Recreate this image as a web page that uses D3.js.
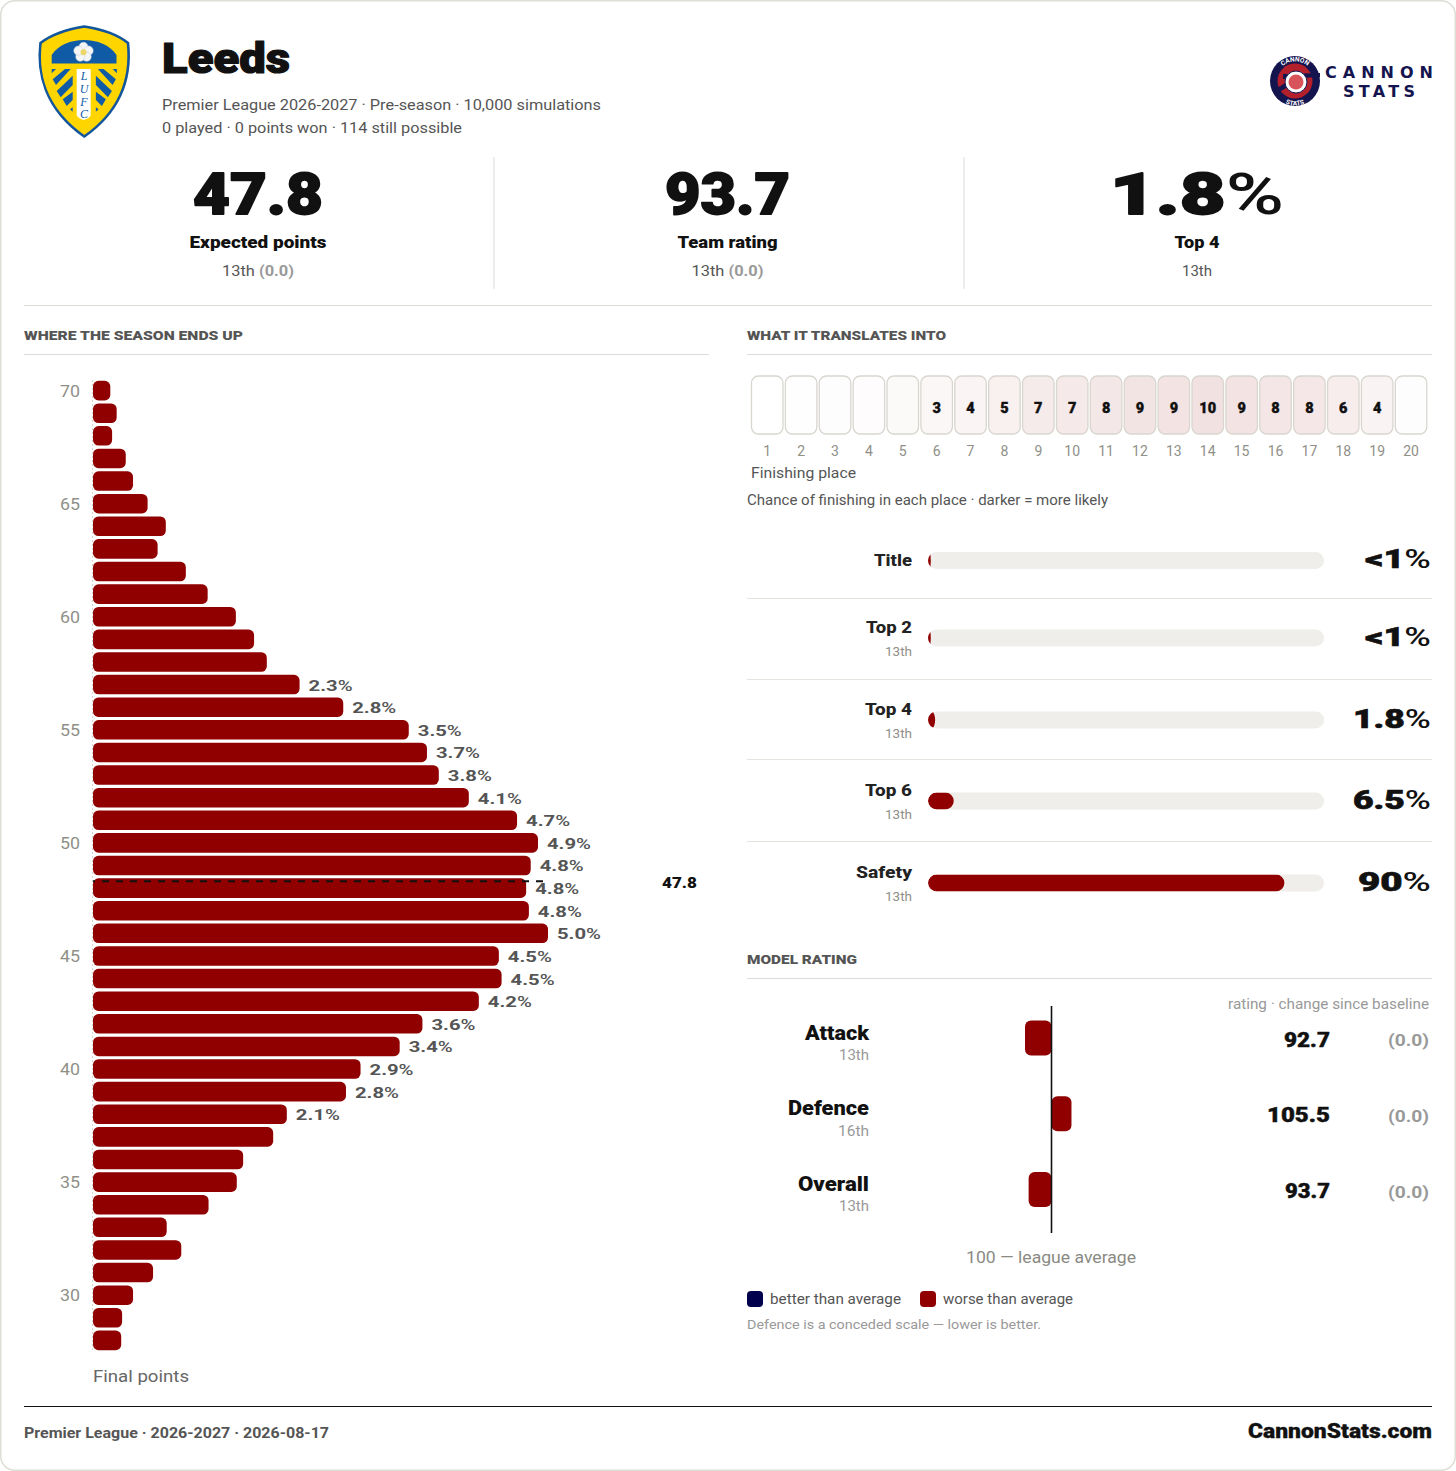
<!DOCTYPE html>
<html><head><meta charset="utf-8">
<script src="https://cdn.jsdelivr.net/npm/d3@7"></script>
<style>html,body{margin:0;padding:0;background:#fff}svg{display:block}</style>
</head><body><svg id="c" width="1456" height="1471"></svg>
<script>
const pointsAxis=[70,69,68,67,66,65,64,63,62,61,60,59,58,57,56,55,54,53,52,51,50,49,48,47,46,45,44,43,42,41,40,39,38,37,36,35,34,33,32,31,30,29,28];
const pointsPct=[.19,.26,.21,.36,.44,.60,.80,.71,1.02,1.26,1.57,1.77,1.91,2.27,2.75,3.47,3.67,3.80,4.13,4.66,4.89,4.81,4.76,4.79,5.0,4.46,4.49,4.24,3.62,3.37,2.94,2.78,2.13,1.98,1.65,1.58,1.27,.81,.97,.66,.44,.32,.31];
const pointsTicks=[70,65,60,55,50,45,40,35,30];
const expectedPoints=47.8;
const places=d3.range(1,21);
const placePct=[.1,.3,.5,.9,2.0,2.7,3.7,4.8,6.6,7.2,7.9,8.8,9.1,9.8,9.0,8.2,7.8,5.9,3.8,.5];
const outcomeNames=["Title","Top 2","Top 4","Top 6","Safety"];
const outcomeRanks=[null,"13th","13th","13th","13th"];
const outcomePct=[.7,.7,1.8,6.5,90];
const outcomeLabels=["<1%","<1%","1.8%","6.5%","90%"];
const ratingNames=["Attack","Defence","Overall"];
const ratingRanks=["13th","16th","13th"];
const ratingValues=[92.7,105.5,93.7];
const kpiValues=["47.8","93.7","1.8%"];
const kpiNames=["Expected points","Team rating","Top 4"];

const RED="#900000",NAVY="#00004d",INK="#111",MID="#555",SOFT="#8f8f88",RULE="#dcdbd6";
const HEAVY="Roboto,sans-serif",BODY="Roboto,sans-serif";
const svg=d3.select("#c");
function T(x,y,s,o={}){
  const t=svg.append("text").attr("x",x).attr("y",y).attr("dy","0.35em")
   .attr("font-family",o.f||BODY).attr("font-size",o.s||14).attr("font-weight",o.w||400)
   .attr("fill",o.c||MID).attr("text-anchor",o.a||"start");
  const str=String(s);
  if(str.endsWith("%")){
    t.text(str.slice(0,-1));
    t.append("tspan").attr("font-weight",o.pw||500).attr("stroke-width",0).text("%");
  } else t.text(str);
  if(o.ls)t.attr("letter-spacing",o.ls);
  if(o.l)t.attr("textLength",o.l).attr("lengthAdjust",o.adj||"spacingAndGlyphs");
  if(o.bold)t.attr("stroke",o.c||MID).attr("stroke-width",o.bold).attr("stroke-linejoin","round");
  return t;
}
function L(x1,y1,x2,y2,c,w){return svg.append("line").attr("x1",x1).attr("y1",y1).attr("x2",x2).attr("y2",y2).attr("stroke",c||RULE).attr("stroke-width",w||1);}

svg.append("rect").attr("x",.75).attr("y",.75).attr("width",1454.5).attr("height",1469.5).attr("rx",14).attr("fill","#fff").attr("stroke","#dfded6").attr("stroke-width",1.5);

// crest
const crest=svg.append("g");
const BLUE="#0f5ba6";
crest.append("path").attr("d","M84.3 26.5 C100 29 117 34 128 43 C131 72 125 108 84.3 136.5 C44 108 37 72 40.5 43 C52 34 69 29 84.3 26.5Z").attr("fill","#ffd500").attr("stroke","#13569c").attr("stroke-width",2.6);
crest.append("path").attr("d","M51.7 63.5 L51.7 55 C58 45 71 40 84 40 C97 40 110 45 116.5 55 L116.5 63.5Z").attr("fill",BLUE);
d3.range(5).forEach(i=>{const a=-Math.PI/2+i*2*Math.PI/5;
  crest.append("circle").attr("cx",83.5+5.4*Math.cos(a)).attr("cy",52.3+5.4*Math.sin(a)).attr("r",4.6).attr("fill","#f3f5f7").attr("stroke","#c4ccd6").attr("stroke-width",.5);});
crest.append("circle").attr("cx",83.5).attr("cy",52.3).attr("r",3).attr("fill","#ecd768");
crest.append("path").attr("d","M76.7 69 H90.7 V115 Q90 118 83.7 120 Q77.5 118 76.7 115Z").attr("fill","#fff");
const stripes=[[[51.7,69],[56,69],[51.7,73.3]],[[65,69],[70.7,69],[56,85],[52.7,79.3]],[[72.7,75.7],[72.7,85],[60.7,97.3],[56.7,91]],[[72.7,91.7],[72.7,100],[66.7,106],[62.7,99.3]],[[72.7,107.3],[72.7,111.7],[70,109.3]]];
stripes.forEach(p=>{
  crest.append("polygon").attr("points",p.map(q=>q.join(",")).join(" ")).attr("fill",BLUE);
  crest.append("polygon").attr("points",p.map(q=>[168.6-q[0],q[1]].join(",")).join(" ")).attr("fill",BLUE);
});
["L","U","F","C"].forEach((c,i)=>svg.append("text").attr("x",84).attr("y",80+i*12.8).attr("text-anchor","middle").attr("font-family","'Liberation Serif',serif").attr("font-style","italic").attr("font-size",12).attr("fill",BLUE).text(c));

// cannon logo
const lg=svg.append("g"),LN="#14144f";
lg.append("circle").attr("cx",1295).attr("cy",81).attr("r",25).attr("fill",LN);
lg.append("circle").attr("cx",1295).attr("cy",81).attr("r",17.5).attr("fill","#b3202c");
lg.append("path").attr("d","M1283 74 L1320 73 L1320 77 L1283 79Z").attr("fill",LN);
lg.append("path").attr("d","M1274 90 L1290 80 L1293 84 L1276 94Z").attr("fill",LN);
lg.append("circle").attr("cx",1296).attr("cy",82).attr("r",11).attr("fill","#fff").attr("stroke",LN).attr("stroke-width",1);
lg.append("circle").attr("cx",1296).attr("cy",82).attr("r",7.5).attr("fill","#d9535b");
svg.append("defs").html('<path id="ta" d="M1275.5 81 A19.5 19.5 0 0 1 1314.5 81"/><path id="tb" d="M1270.5 81 A24.5 24.5 0 0 0 1319.5 81"/>');
[["#ta","CANNON"],["#tb","STATS"]].forEach(a=>svg.append("text").attr("font-size",6.5).attr("font-weight",700).attr("fill","#fff").attr("font-family",BODY).append("textPath").attr("href",a[0]).attr("startOffset","50%").attr("text-anchor","middle").text(a[1]));
T(1325,72,"CANNON",{f:"'DejaVu Sans',sans-serif",s:16,w:700,c:LN,l:108,adj:"spacing"});
T(1343,91,"STATS",{f:"'DejaVu Sans',sans-serif",s:16,w:700,c:LN,l:72,adj:"spacing"});

// header
T(162,58,"Leeds",{f:HEAVY,s:43,w:900,c:INK,l:128,bold:1.2});
T(162,105,"Premier League 2026-2027 · Pre-season · 10,000 simulations",{s:15,l:439});
T(162,128,"0 played · 0 points won · 114 still possible",{s:15,l:300});

// KPI
const kpiX=d3.scalePoint().domain(kpiNames).range([258,1197]);
const kpiW=[130,125,174],kpiNW=[137,100,45];
kpiNames.forEach((n,i)=>{
  const x=kpiX(n);
  T(x,194,kpiValues[i],{f:HEAVY,s:58,w:900,c:INK,a:"middle",l:kpiW[i],bold:1.8});
  T(x,242.5,n,{f:HEAVY,s:17,w:900,c:INK,a:"middle",l:kpiNW[i]});
  const t=T(x,271,"13th",{s:15,a:"middle"});
  if(i<2){t.attr("textLength",72).attr("lengthAdjust","spacingAndGlyphs");
    t.text("13th ");t.append("tspan").attr("font-weight",700).attr("fill","#999").text("(0.0)");}
  else t.attr("textLength",30).attr("lengthAdjust","spacingAndGlyphs");
});
[494,964].forEach(x=>L(x,157,x,289));
L(24,305.5,1432,305.5);

function section(x,y,s,w){T(x,y,s,{s:13,w:900,c:MID,l:w});}
section(24,335.5,"WHERE THE SEASON ENDS UP",219);
section(747,335.5,"WHAT IT TRANSLATES INTO",199);
L(24,354.5,709,354.5);L(747,354.5,1432,354.5);

// distribution
const yP=d3.scaleBand().domain(pointsAxis).range([379.3,1351.7]).paddingInner(.135).paddingOuter(.0675);
const xP=d3.scaleLinear().domain([0,5]).range([93,548]);
L(92.5,380,92.5,1351,"#d5d4ce",1).attr("stroke-dasharray","2 2");
svg.append("g").selectAll("rect").data(pointsPct).join("rect")
 .attr("x",xP(0)).attr("y",(d,i)=>yP(pointsAxis[i])).attr("width",d=>xP(d)-xP(0)).attr("height",yP.bandwidth()).attr("rx",5.5).attr("fill",RED);
pointsTicks.forEach(p=>T(80,yP(p)+yP.bandwidth()/2+.6,p,{s:16,c:SOFT,a:"end",l:20}));
pointsPct.forEach((d,i)=>{ if(d>=2.05) T(xP(d)+9,yP(pointsAxis[i])+yP.bandwidth()/2+.7,d.toFixed(1)+"%",{s:15,w:700,c:MID,l:44}); });
const evY=yP(Math.round(expectedPoints))+3;
L(xP(0),evY,543,evY,"#111",2).attr("stroke-dasharray","7 7").attr("stroke-dashoffset",5);
T(662,evY+1,expectedPoints,{f:HEAVY,s:15,w:900,c:INK,l:35});
T(93,1376,"Final points",{s:16,c:"#666",l:96});

// finishing place
const xF=d3.scaleBand().domain(places).range([750.3,1428]).paddingInner(.07).paddingOuter(.035);
const op=d3.scaleLinear().domain([0,10]).range([0,.12]);
svg.append("g").selectAll("rect").data(placePct).join("rect")
 .attr("x",(d,i)=>xF(places[i])).attr("y",376).attr("width",xF.bandwidth()).attr("height",58).attr("rx",7)
 .attr("fill",d=>d3.rgb(255-(255-0x90)*op(d),255-255*op(d),255-255*op(d))).attr("stroke","#d8d6cf").attr("stroke-width",1.3);
placePct.forEach((d,i)=>{const cx=xF(places[i])+xF.bandwidth()/2;
  if(d>=2.5&&i<19) T(cx,407.5,Math.round(d),{f:HEAVY,s:14.5,w:900,c:INK,a:"middle",bold:.4});
  T(cx,451,places[i],{s:14,c:SOFT,a:"middle"});
});
T(751,473,"Finishing place",{s:15,l:105});
T(747,500,"Chance of finishing in each place · darker = more likely",{s:14.5,l:361});

// outcomes
const xO=d3.scaleLinear().domain([0,100]).range([928,1324]);
const oCy=[560.5,638,720,801,883],oDiv=[598,679,759,841];
const oNW=[38,46,47,47,56],oVW=[66,66,78,78,73];
const defs=svg.select("defs");
outcomeNames.forEach((n,i)=>{
  const cy=oCy[i],id="trk"+i;
  defs.append("clipPath").attr("id",id).append("rect").attr("x",xO(0)).attr("y",cy-8.5).attr("width",xO(100)-xO(0)).attr("height",17).attr("rx",8.5);
  svg.append("rect").attr("x",xO(0)).attr("y",cy-8.5).attr("width",xO(100)-xO(0)).attr("height",17).attr("rx",8.5).attr("fill","#f0eeea");
  const w=xO(outcomePct[i])-xO(0);
  svg.append("rect").attr("clip-path",`url(#${id})`).attr("x",xO(0)).attr("y",cy-8.5).attr("width",w).attr("height",17).attr("rx",Math.min(8.5,w/2)).attr("ry",8.5).attr("fill",RED);
  T(912,outcomeRanks[i]?cy-10.5:cy,n,{f:HEAVY,s:17,w:800,c:"#222",a:"end",l:oNW[i]});
  if(outcomeRanks[i])T(912,cy+14,outcomeRanks[i],{s:12.5,c:SOFT,a:"end",l:27});
  T(1431,cy-1,outcomeLabels[i],{f:HEAVY,s:25,w:900,c:INK,a:"end",l:oVW[i],bold:.6});
});
oDiv.forEach(y=>L(747,y+.5,1432,y+.5,"#e4e3de"));

// model rating
section(747,959,"MODEL RATING",110);
L(747,978.5,1432,978.5);
T(1429,1004,"rating · change since baseline",{s:14,c:"#999",a:"end",l:201});
const xR=d3.scaleLinear().domain([92.7,100]).range([1025,1051.5]);
const yR=d3.scalePoint().domain(ratingNames).range([1038,1189.5]);
const rNW=[64,81,71],rVW=[46,63,45],rRW=[30,31,30];
svg.append("g").selectAll("rect").data(ratingValues).join("rect")
 .attr("x",d=>Math.min(xR(d),xR(100))).attr("y",(d,i)=>yR(ratingNames[i])-17.5).attr("width",d=>Math.abs(xR(d)-xR(100))).attr("height",35).attr("rx",6).attr("fill",RED);
L(1051.5,1006,1051.5,1233,"#111",1.6);
ratingNames.forEach((n,i)=>{
  const c=yR(n);
  T(869,c-5.5,n,{f:HEAVY,s:20,w:900,c:INK,a:"end",l:rNW[i]});
  T(869,c+17,ratingRanks[i],{s:14,c:"#999",a:"end",l:rRW[i]});
  T(1330,c+1.5,ratingValues[i].toFixed(1),{f:HEAVY,s:20,w:900,c:INK,a:"end",l:rVW[i],bold:.4});
  T(1429,c+2.5,"(0.0)",{s:16,w:700,c:"#999",a:"end",l:41});
});
T(1051,1257,"100 — league average",{s:16,c:"#8a8a83",a:"middle",l:170});
svg.append("rect").attr("x",747).attr("y",1291).attr("width",16).attr("height",16).attr("rx",4).attr("fill",NAVY);
T(770,1299.5,"better than average",{s:14,l:131});
svg.append("rect").attr("x",920).attr("y",1291).attr("width",16).attr("height",16).attr("rx",4).attr("fill",RED);
T(943,1299.5,"worse than average",{s:14,l:130});
T(747,1324.5,"Defence is a conceded scale — lower is better.",{s:13.5,c:"#999",l:294});

// footer
L(24,1406.5,1432,1406.5,"#111",1);
T(24,1433,"Premier League · 2026-2027 · 2026-08-17",{s:15,w:700,c:MID,l:305});
T(1432,1431,"CannonStats.com",{f:HEAVY,s:20,w:900,c:INK,a:"end",l:184,bold:.3});
</script></body></html>
